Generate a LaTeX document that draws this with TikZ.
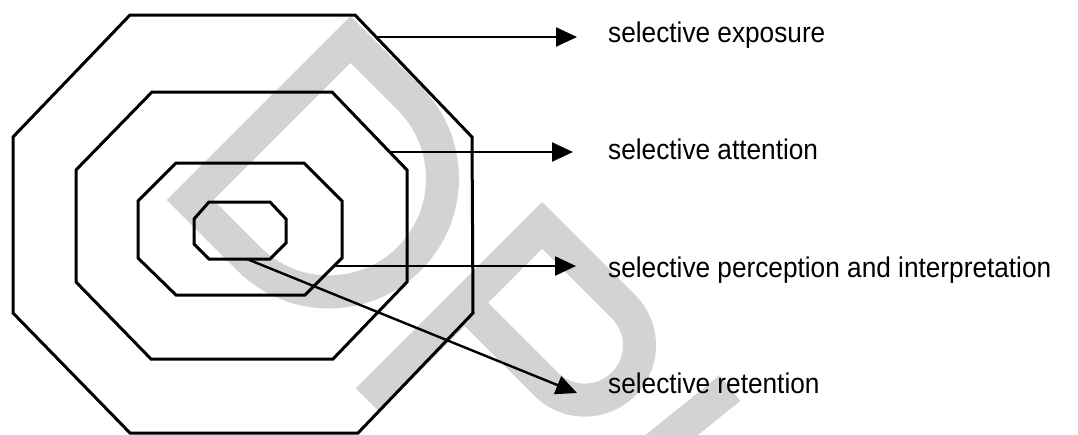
\documentclass[tikz,border=0pt]{standalone}
\usepackage{fontspec}
\newfontfamily\lblfont[FakeStretch=0.92]{Liberation Sans}
\usetikzlibrary{arrows.meta}
\definecolor{stampgray}{RGB}{211,211,211}
\tikzset{
  octo/.style={line width=3pt, line join=miter},
  selarrow/.style={line width=2.4pt, -{Triangle[length=21pt,width=19pt]}},
  stamp/.style={stampgray, line width=33pt, line join=miter},
  lbl/.style={anchor=base west, inner sep=0pt, font={\lblfont\fontsize{28.5pt}{34pt}\selectfont}}
}
\begin{document}
\begin{tikzpicture}[x=1pt,y=-1pt]
	\useasboundingbox (0,0) rectangle (1078,434);
	\clip (0,0) rectangle (1078,434);
	%% stamp behind the drawing
	\begin{scope}[shift={(190,200)},x={(0.7071pt,-0.7071pt)},y={(0.7071pt,0.7071pt)}]
		\draw[stamp] (0,227) -- (0,0) -- (83,0) arc[start angle=-90,end angle=90,radius=113.5] -- cycle;
	\end{scope}
	\begin{scope}[shift={(367.5,400)},x={(0.7071pt,-0.7071pt)},y={(0.7071pt,0.7071pt)}]
		\draw[stamp] (0,0) -- (0,247) -- (115,247) arc[start angle=90,end angle=-90,radius=54.75] -- (0,137.5);
	\end{scope}
	\draw[stamp] (730,388) -- (616,480);
	%% octagons
	\draw[octo] (130,15) -- (355,15) -- (472,137) -- (473,313) -- (358,433) -- (130,433) -- (13,313) -- (13,137) -- cycle;
	\draw[octo] (152,92) -- (332,92) -- (407,170) -- (407,282) -- (333,359) -- (151,359) -- (76,282) -- (76,170) -- cycle;
	\draw[octo] (176,163) -- (304,163) -- (342,201) -- (342,258) -- (305,295) -- (176,295) -- (138,258) -- (138,201) -- cycle;
	\draw[octo] (209,202) -- (270,202) -- (286,219) -- (286,243) -- (270,259) -- (209,259) -- (194,244) -- (194,219) -- cycle;
	%% labels
	\node[lbl] (expolbl) at (608,42) {selective exposure};
	\node[lbl] (attelbl) at (608,159) {selective attention};
	\node[lbl] (perclbl) at (608,277.5) {selective perception and interpretation};
	\node[lbl] (retelbl) at (608,393.5) {selective retention};
	%% arrows
	\coordinate (expo) at (376,37);
	\coordinate (atte) at (390,152);
	\coordinate (perc) at (334,266);
	\coordinate (rete) at (247,259);
	\coordinate (expotip) at (577,37);
	\coordinate (attetip) at (573,152);
	\coordinate (perctip) at (576,266);
	\coordinate (retetip) at (577,393);
	\draw[selarrow] (expo) -- (expotip);
	\draw[selarrow] (atte) -- (attetip);
	\draw[selarrow] (perc) -- (perctip);
	\draw[selarrow] (rete) -- (retetip);
\end{tikzpicture}
\end{document}
